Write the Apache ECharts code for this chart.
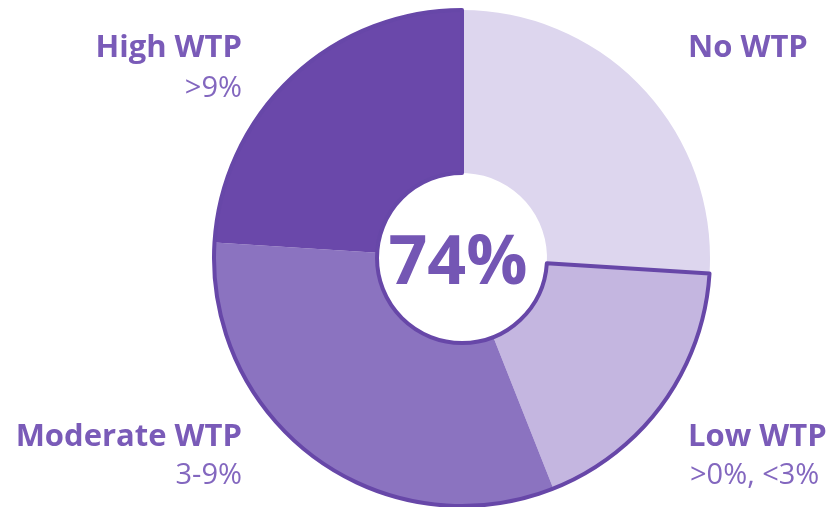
<!DOCTYPE html>
<html>
<head>
<meta charset="utf-8">
<script src="https://cdn.jsdelivr.net/npm/echarts@6/dist/echarts.min.js"></script>
<style>
html,body{margin:0;padding:0;background:#fff;}
#c{width:828px;height:507px;}
</style>
</head>
<body>
<div id="c"></div>
<script>
const categories = ['No WTP', 'Low WTP', 'Moderate WTP', 'High WTP'];
const ranges = ['', '>0%, <3%', '3-9%', '>9%'];
const values = [26, 18, 32, 24];
const colors = ['#ddd6ee', '#c4b6e0', '#8b73c0', '#6a48aa'];
const centerLabel = '74%';

const wtpTotal = values[1] + values[2] + values[3];
const chart = echarts.init(document.getElementById('c'));
const cx = 462, cy = 258, r0 = 85, r1 = 248;
const nameStyle = {fontFamily: 'Open Sans', fontWeight: 'bold', fontSize: 31, fill: '#7a5bb8', textVerticalAlign: 'middle'};
const subStyle = {fontFamily: 'Open Sans', fontWeight: 'normal', fontSize: 29, fill: '#8367bf', textVerticalAlign: 'middle'};

function txt(text, x, y, align, style) {
  return {type: 'text', x: x, y: y, style: Object.assign({text: text, textAlign: align}, style)};
}

chart.setOption({
  animation: false,
  series: [
    {
      type: 'pie',
      center: [cx, cy],
      radius: [r0, r1],
      startAngle: 90,
      clockwise: true,
      silent: true,
      label: {show: false},
      labelLine: {show: false},
      itemStyle: {borderWidth: 0},
      data: categories.map((n, i) => ({name: n, value: values[i], itemStyle: {color: colors[i]}}))
    },
    {
      type: 'pie',
      center: [cx, cy],
      radius: [r0, r1],
      startAngle: 90,
      clockwise: true,
      silent: true,
      label: {show: false},
      labelLine: {show: false},
      data: [
        {name: 'none', value: values[0], itemStyle: {color: 'rgba(0,0,0,0)', borderWidth: 0}},
        {name: 'wtp', value: wtpTotal, itemStyle: {color: 'rgba(0,0,0,0)', borderColor: '#6747a8', borderWidth: 4}}
      ]
    }
  ],
  graphic: [
    txt(categories[0], 688, 48, 'left', nameStyle),
    txt(categories[3], 242, 48, 'right', nameStyle),
    txt(ranges[3], 242, 89, 'right', subStyle),
    txt(categories[2], 242, 437, 'right', nameStyle),
    txt(ranges[2], 242, 476, 'right', subStyle),
    txt(categories[1], 688, 437, 'left', nameStyle),
    txt(ranges[1], 690, 476, 'left', subStyle),
    {type: 'text', x: 458, y: 265, style: {text: centerLabel, fontFamily: 'Open Sans', fontWeight: 'bold', fontSize: 68, fill: '#7456b4', textAlign: 'center', textVerticalAlign: 'middle'}}
  ]
});
</script>
</body>
</html>
